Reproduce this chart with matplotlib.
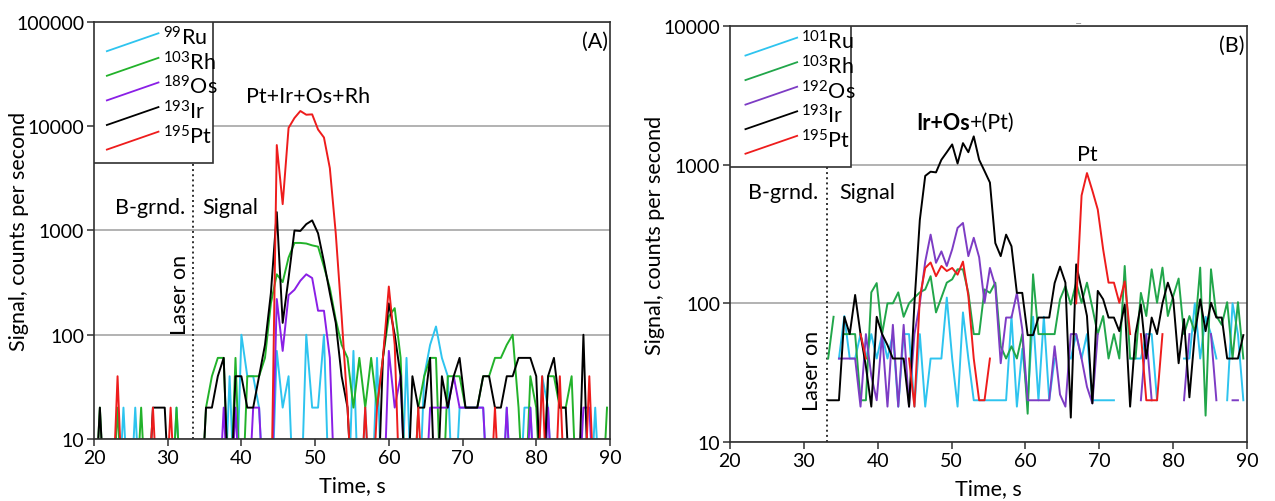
import numpy as np
import matplotlib
matplotlib.use("Agg")
import matplotlib.pyplot as plt
from matplotlib.patches import Rectangle
from matplotlib.ticker import FixedLocator, NullLocator, FuncFormatter

plt.rcParams["font.family"] = ["Lato", "DejaVu Sans"]
plt.rcParams["mathtext.fontset"] = "custom"
plt.rcParams["mathtext.rm"] = "Lato"
plt.rcParams["mathtext.it"] = "Lato:italic"
plt.rcParams["mathtext.bf"] = "Lato:bold"

nan = np.nan

# ---- panel A: acquisition grid (s) and counts per second ----
time_a = np.round(np.arange(20.0, 90.0, 0.8), 2)   # 88 sweeps

ru99_a = [0, 0, 0, 0, 0, 20, 0, 20, 0, 0,
          0, 0, 0, 0, 20, 0, 0, 0, 0, 0,
          0, 0, 0, 40, 0, 100, 40, 40, 20, 0,
          0, 70, 20, 40, 0, 0, 100, 20, 20, 100,
          0, 0, 0, 0, 70, 0, 20, 0, 60, 0,
          0, 0, 0, 60, 0, 0, 40, 80, 120, 60,
          40, 0, 20, 20, 20, 20, 20, 0, 0, 0,
          20, 0, 0, 20, 20, 0, 40, 20, 0, 0,
          0, 0, 0, 0, 0, 20, 0, 0]
rh103_a = [0, 20, 0, 0, 20, 0, 0, 0, 20, 0,
           0, 0, 0, 0, 20, 0, 0, 0, 0, 20,
           40, 60, 60, 0, 60, 0, 40, 40, 40, 60,
           200, 380, 320, 550, 760, 760, 750, 720, 700, 450,
           280, 140, 80, 60, 20, 60, 20, 60, 20, 60,
           150, 180, 60, 0, 0, 20, 40, 60, 60, 0,
           40, 40, 40, 20, 20, 20, 40, 40, 60, 60,
           80, 100, 20, 0, 40, 20, 0, 40, 40, 20,
           20, 40, 0, 0, 0, 0, 0, 20]
os189_a = [0, 0, 0, 0, 0, 0, 0, 0, 0, 0,
           0, 0, 0, 0, 0, 0, 0, 0, 0, 0,
           0, 0, 20, 0, 20, 0, 0, 20, 20, 0,
           0, 220, 70, 240, 270, 330, 380, 350, 170, 170,
           60, 0, 0, 0, 0, 0, 0, 0, 0, 0,
           70, 20, 40, 0, 0, 0, 0, 20, 20, 20,
           20, 40, 20, 20, 20, 20, 20, 0, 0, 0,
           20, 0, 0, 0, 20, 0, 0, 20, 0, 0,
           0, 0, 0, 20, 20, 0, 0, 0]
ir193_a = [0, 20, 0, 0, 0, 0, 0, 0, 0, 0,
           20, 20, 20, 0, 0, 0, 0, 0, 0, 20,
           20, 40, 60, 0, 40, 40, 20, 20, 40, 80,
           250, 1500, 130, 350, 1000, 990, 1150, 1250, 940, 500,
           250, 130, 40, 20, 0, 0, 0, 0, 0, 60,
           200, 100, 40, 0, 40, 20, 20, 60, 0, 40,
           20, 40, 60, 20, 20, 20, 40, 40, 20, 20,
           40, 40, 60, 60, 60, 40, 0, 40, 60, 20,
           20, 0, 0, 100, 0, 0, 0, 0]
pt195_a = [0, 0, 0, 0, 40, 0, 0, 0, 0, 0,
           20, 0, 0, 20, 0, 0, 0, 0, 0, 0,
           0, 0, 0, 0, 0, 0, 0, 0, 0, 0,
           0, 6600, 1790, 9640, 12000, 14000, 12900, 13000, 9300, 7800,
           3960, 940, 150, 20, 0, 0, 20, 0, 20, 60,
           290, 80, 0, 0, 0, 20, 0, 0, 0, 0,
           0, 0, 0, 0, 0, 0, 0, 0, 20, 0,
           0, 0, 0, 0, 0, 0, 40, 0, 0, 40,
           0, 0, 0, 0, 40, 0, 0, 0]

# ---- panel B ----
time_b = np.round(33.3 + 0.73 * np.arange(78), 2)

ru101_b = [nan, nan, 40, 81, 40, 40, 60, 40, 60, 40,
           60, 40, 60, 18, 60, 60, 18, 60, 18, 40,
           40, 40, 110, 40, 18, 86, 40, 20, 20, 20,
           20, 20, 20, 20, 81, 18, 47, 20, 80, 20,
           80, 20, 40, nan, nan, 40, 60, 40, 60, 20,
           20, 20, 20, 20, nan, nan, 40, 40, 40, 60,
           60, 20, nan, nan, nan, nan, 40, 40, 100, 40,
           80, 60, 40, nan, 20, 100, 60, 20]
rh103_b = [40, 80, nan, 60, 60, 60, 20, 20, 120, 140,
           60, 100, 100, 120, 80, 100, 110, 120, 126, 157,
           86, 110, 141, 149, 176, 176, 119, 60, 60, 126,
           119, 141, 49, 40, 49, 40, 60, 16, 162, 60,
           60, 60, 60, 107, 133, 98, 141, 101, 141, 93,
           60, 81, 40, 60, 40, 186, 40, 40, 119, 81,
           176, 101, 181, 81, 113, 151, 60, 81, 62, 181,
           15.5, 176, 81, 70, 102, 40, 102, 40]
os192_b = [nan, nan, 40, 40, 40, 40, 18, 60, 30, 20,
           60, 18, 70, 18, 70, 18, 60, 100, 200, 313,
           196, 237, 186, 245, 350, 380, 219, 297, 215, 101,
           180, 133, 37, 79, 79, 119, 65, 20, 20, 20,
           20, 20, 49, 22, 18, 60, 60, 40, 25, 19,
           60, nan, nan, nan, nan, nan, nan, nan, 20, 60,
           20, nan, nan, nan, nan, nan, 20, 60, nan, nan,
           nan, 60, 20, nan, nan, 20, 20, nan]
ir193_b = [20, 20, 20, 80, 60, 115, 60, 35, 18, 80,
           60, 50, 40, 40, 40, 18, 100, 400, 830, 890,
           880, 1085, 1230, 1400, 1020, 1430, 1230, 1600, 1085, 900,
           743, 272, 219, 313, 258, 119, 119, 59, 59, 79,
           79, 79, 140, 184, 141, 15, 191, 126, 81, 19,
           123, 107, 79, 79, 63, 98, 18, 60, 98, 40,
           79, 60, 100, 141, 107, 37, 77, 21, 60, 107,
           63, 101, 79, 79, 40, 40, 40, 59]
pt195_b = [nan, nan, nan, nan, nan, nan, 60, 40, nan, nan,
           nan, nan, nan, nan, nan, 40, 18, 110, 180, 197,
           157, 186, 171, 180, 161, 200, 113, 40, 20, 20,
           40, nan, nan, nan, nan, nan, nan, nan, nan, nan,
           nan, nan, nan, nan, nan, nan, 100, 600, 870, 650,
           475, 245, 141, 141, 101, 144, 60, nan, 60, 20,
           20, 20, 60, nan, nan, nan, nan, nan, nan, nan,
           nan, nan, nan, nan, nan, nan, nan, nan]

colors_a = ["#2ec4ef", "#22b22a", "#8a1fe6", "#000000", "#ee1c1c"]
colors_b = ["#2ec4ef", "#21a64a", "#7d3cc4", "#000000", "#ee1c1c"]
labels_a = [r"$^{99}$Ru", r"$^{103}$Rh", r"$^{189}$Os", r"$^{193}$Ir", r"$^{195}$Pt"]
labels_b = [r"$^{101}$Ru", r"$^{103}$Rh", r"$^{192}$Os", r"$^{193}$Ir", r"$^{195}$Pt"]

FS = 14      # tick labels
FT = 15.5    # other text
ZERO_FLOOR = 1.5   # zero counts drawn below the axis, as in the spreadsheet plot

fig = plt.figure(figsize=(12.75, 5.02), dpi=100)
ax_a = fig.add_axes([0.0737, 0.1235, 0.4047, 0.8307])
ax_b = fig.add_axes([0.5725, 0.1175, 0.4055, 0.8287])


def style_axes(ax, ymax):
    ax.set_yscale("log")
    ax.set_xlim(20, 90)
    ax.set_ylim(10, ymax)
    decades = [10 ** k for k in range(1, int(round(np.log10(ymax))) + 1)]
    ax.yaxis.set_major_locator(FixedLocator(decades))
    ax.yaxis.set_minor_locator(NullLocator())
    ax.yaxis.set_major_formatter(FuncFormatter(lambda v, p: "%d" % v))
    ax.set_xticks(range(20, 91, 10))
    ax.grid(axis="y", color="#a6a6a6", lw=1.2)
    ax.set_axisbelow(True)
    for s in ax.spines.values():
        s.set_color("#303030")
        s.set_linewidth(1.2)
    ax.tick_params(direction="out", length=5, width=1.1, color="#303030",
                   labelsize=FS, pad=2)
    ax.set_xlabel("Time, s", fontsize=FT, labelpad=7)
    ax.set_ylabel("Signal, counts per second", fontsize=FT)
    ax.yaxis.set_label_coords(-0.126, 0.5)


def draw_key(ax, labels, colors, x_right, y_bottom, x0, y_top):
    ax.add_patch(Rectangle((0, y_bottom), x_right, 1 - y_bottom, transform=ax.transAxes,
                           facecolor="white", edgecolor="#303030", lw=1.2, zorder=5))
    for k, (lab, c) in enumerate(zip(labels, colors)):
        y0 = y_top - k * 0.059
        ax.plot([x0, x0 + 0.1], [y0, y0 + 0.043], transform=ax.transAxes,
                color=c, lw=1.3, zorder=6)
        ax.text(x0 + 0.108, y0 + 0.034, lab, transform=ax.transAxes, ha="left",
                va="center", fontsize=FT, zorder=6)


series_a = [ru99_a, rh103_a, os189_a, ir193_a, pt195_a]
series_b = [ru101_b, rh103_b, os192_b, ir193_b, pt195_b]

style_axes(ax_a, 1e5)
for vals, c in zip(series_a, colors_a):
    v = np.asarray(vals, dtype=float)
    ax_a.plot(time_a, np.where(v > 0, v, ZERO_FLOOR), color=c, lw=1.4)

style_axes(ax_b, 1e4)
for vals, c in zip(series_b, colors_b):
    ax_b.plot(time_b, vals, color=c, lw=1.4)

# panel A annotations
ax_a.axvline(33.4, color="#303030", ls=":", lw=1.4, zorder=1)
draw_key(ax_a, labels_a, colors_a, 0.231, 0.662, 0.025, 0.930)
ax_a.text(0.996, 0.954, "(A)", transform=ax_a.transAxes, ha="right", va="center", fontsize=FT)
ax_a.text(0.414, 0.823, "Pt+Ir+Os+Rh", transform=ax_a.transAxes, ha="center", va="center", fontsize=FT)
ax_a.text(0.108, 0.556, "B-grnd.", transform=ax_a.transAxes, ha="center", va="center", fontsize=FT)
ax_a.text(0.265, 0.556, "Signal", transform=ax_a.transAxes, ha="center", va="center", fontsize=FT)
ax_a.text(0.167, 0.348, "Laser on", transform=ax_a.transAxes, ha="center", va="center",
          rotation=90, fontsize=FT)

# panel B annotations
ax_b.axvline(33.1, color="#303030", ls=":", lw=1.4, zorder=1)
draw_key(ax_b, labels_b, colors_b, 0.234, 0.661, 0.030, 0.929)
ax_b.text(0.996, 0.954, "(B)", transform=ax_b.transAxes, ha="right", va="center", fontsize=FT)
t1 = ax_b.text(0.36, 0.769, "Ir+Os", transform=ax_b.transAxes, ha="left", va="center",
               fontsize=FT, fontweight="bold")
ax_b.annotate("+(Pt)", xy=(1, 0.5), xycoords=t1, ha="left", va="center", fontsize=FT)
ax_b.text(0.692, 0.692, "Pt", transform=ax_b.transAxes, ha="center", va="center", fontsize=FT)
ax_b.text(0.103, 0.601, "B-grnd.", transform=ax_b.transAxes, ha="center", va="center", fontsize=FT)
ax_b.text(0.266, 0.601, "Signal", transform=ax_b.transAxes, ha="center", va="center", fontsize=FT)
ax_b.text(0.158, 0.173, "Laser on", transform=ax_b.transAxes, ha="center", va="center",
          rotation=90, fontsize=FT)

fig.text(1078 / 1275, 1 - 24 / 502, "\u2013", color="#999999", fontsize=9, ha="center", va="center")

fig.savefig("out.png", dpi=100)
